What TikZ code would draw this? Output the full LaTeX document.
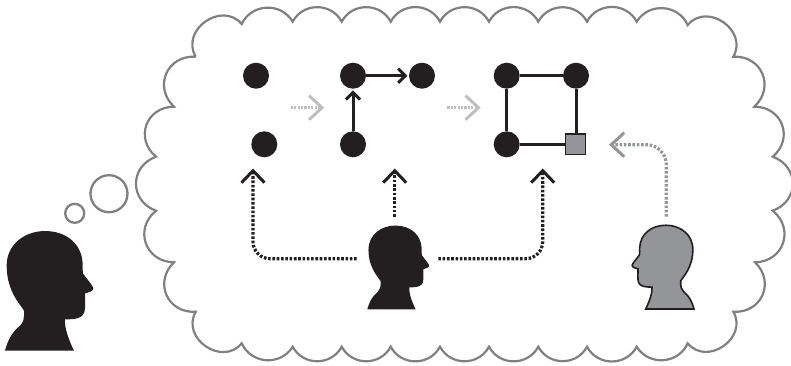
\documentclass[tikz,border=0pt]{standalone}
\usetikzlibrary{arrows.meta}
\definecolor{inkblack}{HTML}{231F20}
\definecolor{cloudgrey}{HTML}{808082}
\definecolor{headgrey}{HTML}{939598}
\definecolor{fadegrey}{HTML}{BFBFC1}
\newcommand{\headoutline}{(0,0)
  .. controls (8,-30) and (20,-55) .. (45,-75)
  .. controls (55,-85) and (58,-95) .. (57,-120)
  .. controls (50,-135) and (5,-175) .. (5,-255)
  .. controls (5,-320) and (60,-359) .. (120,-359)
  .. controls (185,-359) and (230,-320) .. (233,-262)
  .. controls (233,-250) and (232,-240) .. (234,-232)
  .. controls (245,-215) and (265,-195) .. (265,-187)
  .. controls (265,-178) and (250,-175) .. (240,-172)
  .. controls (240,-150) and (242,-130) .. (238,-115)
  .. controls (232,-98) and (215,-94) .. (180,-94)
  .. controls (178,-70) and (190,-35) .. (207,0) -- cycle}
\tikzset{
  dot/.style={circle, fill=inkblack, minimum size=26pt, inner sep=0pt},
  square/.style={rectangle, draw=inkblack, fill=headgrey, line width=1.4pt, minimum size=20.5pt, inner sep=0pt},
  thought/.style={circle, draw=cloudgrey, line width=2.3pt, inner sep=0pt},
  cloud/.style={draw=cloudgrey, line width=2.2pt, line join=miter},
  top lobe/.style={bend left=62, looseness=1.15},
  corner lobe/.style={bend left=85, looseness=1.4},
  side lobe/.style={bend left=70, looseness=1.35},
  link/.style={draw=inkblack, line width=3pt},
  solidarrow/.style={link, -{Straight Barb[length=7pt,width=14pt,line width=3pt]}, shorten >=1.5pt},
  dotted black/.style={draw=inkblack, line width=3.2pt, dash pattern=on 2.6pt off 1.7pt, rounded corners=17pt,
    -{Straight Barb[length=12pt,width=23pt,line width=3pt]}},
  dotted grey/.style={draw=headgrey, line width=3.2pt, dash pattern=on 2.6pt off 1.7pt, rounded corners=20pt,
    -{Straight Barb[length=13pt,width=24pt,line width=3pt]}},
  dotted fade/.style={draw=fadegrey, line width=3pt, dash pattern=on 2.2pt off 1.2pt,
    -{Straight Barb[length=13pt,width=24pt,line width=3pt]}},
}
\begin{document}
\begin{tikzpicture}[x=1pt, y=-1pt]
  \path[use as bounding box] (0, 0) rectangle (791, 365);

  % the cloud
  \draw[cloud] (195.7,56.7) to[corner lobe] (241.7,24)
    \foreach \x in {292.7,341.7,390.7,440,489,538.3,587,636.7} { to[top lobe] (\x,21.7) }
    to[top lobe] (687.7,25)
    to[corner lobe] (733.3,56.7) to[side lobe] (754.3,106.7)
    to[side lobe] (772.7,156.7) to[side lobe] (772.7,210.7)
    to[side lobe] (755,262.3) to[side lobe] (733.3,311.7)
    to[corner lobe] (687.7,343.3) to[top lobe] (636.7,346.7)
    \foreach \x in {587,538.3,489,440,390.7,341.7,292.7} { to[top lobe] (\x,346.7) }
    to[top lobe] (241.7,343.3)
    to[corner lobe] (195.7,311.7) to[side lobe] (174,262.3)
    to[side lobe] (156,210.7) to[side lobe] (156,156.7)
    to[side lobe] (174,106.7) to[side lobe] (195.7,56.7);

  \node[thought, minimum size=37pt] (bigbubble) at (109, 193.7) {};
  \node[thought, minimum size=19pt] (smallbubble) at (74.7, 213.3) {};

  % the thinker and the two heads in the cloud
  \begin{scope}[shift={(5, 350.7)}, scale=0.3333]
    \fill[inkblack] \headoutline;
  \end{scope}
  \begin{scope}[shift={(367.3, 309.3)}, scale=0.2333]
    \fill[inkblack] \headoutline;
  \end{scope}
  \begin{scope}[shift={(694, 309)}, xscale=-0.2333, yscale=0.2333]
    \filldraw[fill=headgrey, draw=inkblack, line width=1.6pt] \headoutline;
  \end{scope}

  % first state
  \node[dot] (firsta) at (256, 75.7) {};
  \node[dot] (firstb) at (264.3, 144.3) {};

  % second state
  \node[dot] (seconda) at (353, 75.7) {};
  \node[dot] (secondb) at (422, 75.7) {};
  \node[dot] (secondc) at (353, 144.3) {};
  \draw[solidarrow] (secondc) -- (seconda);
  \draw[solidarrow] (seconda) -- (secondb);

  % third state
  \node[dot] (thirda) at (506.7, 75.7) {};
  \node[dot] (thirdb) at (576, 75.7) {};
  \node[dot] (thirdc) at (506.7, 144.3) {};
  \node[square] (thirdd) at (575.5, 144.3) {};
  \draw[link] (thirda) -- (thirdb);
  \draw[link] (thirda) -- (thirdc);
  \draw[link] (thirdc) -- (thirdd);
  \draw[link] (thirdb) -- (thirdb |- thirdd.north);

  % free ends of the dotted arrows
  \coordinate (fadeaout) at (290.7, 107.7);
  \coordinate (fadeain) at (324.3, 107.7);
  \coordinate (fadebout) at (447.3, 107.7);
  \coordinate (fadebin) at (480.7, 107.7);
  \coordinate (midleft) at (356.7, 258.7);
  \coordinate (midtop) at (394.7, 216.7);
  \coordinate (midright) at (438.3, 258.7);
  \coordinate (greytop) at (666.3, 216.7);
  \coordinate (tipfirst) at (253, 168.5);
  \coordinate (tipsecond) at (394.7, 168.5);
  \coordinate (tipthird) at (542.7, 168.5);
  \coordinate (tipgrey) at (609, 144.7);

  \draw[dotted fade] (fadeaout) -- (fadeain);
  \draw[dotted fade] (fadebout) -- (fadebin);
  \draw[dotted black] (midleft) -| (tipfirst);
  \draw[dotted black] (midtop) -- (tipsecond);
  \draw[dotted black] (midright) -| (tipthird);
  \draw[dotted grey] (greytop) |- (tipgrey);
\end{tikzpicture}
\end{document}
